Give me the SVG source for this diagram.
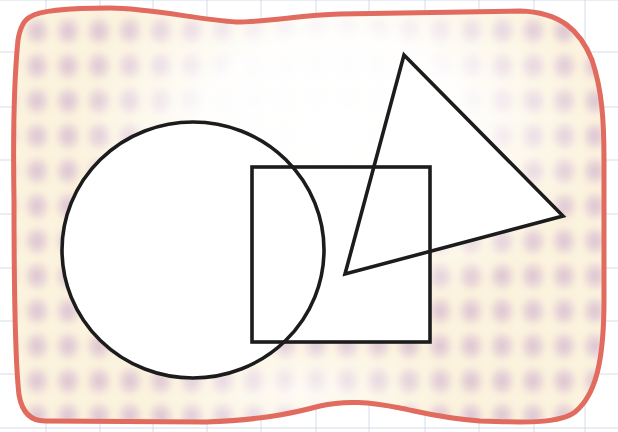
<svg xmlns="http://www.w3.org/2000/svg" width="618" height="432" viewBox="0 0 618 432">
<style>
.grid{stroke:#ccd3e2;stroke-width:0.8;fill:none}
.outline{fill:none;stroke:#1c1c1c;stroke-width:3.6;stroke-linejoin:miter}
.whitefill{fill:#ffffff;stroke:none}
.border{fill:none;stroke:#e06b5e;stroke-width:5;stroke-linejoin:round}
</style>
<defs>
<radialGradient id="spot">
<stop offset="0" stop-color="#c0a0cc" stop-opacity="0.6"/>
<stop offset="0.6" stop-color="#d4b0d0" stop-opacity="0.35"/>
<stop offset="1" stop-color="#f2d8e0" stop-opacity="0"/>
</radialGradient>
<pattern id="checks" x="22" y="14" width="31" height="35" patternUnits="userSpaceOnUse">
<rect width="31" height="35" fill="#fbf3dd"/>
<ellipse cx="15" cy="17" rx="15" ry="17" fill="url(#spot)"/>
</pattern>
<filter id="soft" x="-5%" y="-5%" width="110%" height="110%">
<feGaussianBlur stdDeviation="2.5"/>
</filter>
<radialGradient id="fade" cx="335" cy="130" r="260" gradientUnits="userSpaceOnUse" gradientTransform="translate(335 130) scale(1 0.72) translate(-335 -130)">
<stop offset="0" stop-color="#ffffff" stop-opacity="1"/>
<stop offset="0.5" stop-color="#ffffff" stop-opacity="0.95"/>
<stop offset="0.75" stop-color="#ffffff" stop-opacity="0.45"/>
<stop offset="1" stop-color="#ffffff" stop-opacity="0"/>
</radialGradient>
<radialGradient id="fade2" cx="300" cy="390" r="120" gradientUnits="userSpaceOnUse" gradientTransform="translate(300 390) scale(1.3 0.5) translate(-300 -390)">
<stop offset="0" stop-color="#ffffff" stop-opacity="0.7"/>
<stop offset="1" stop-color="#ffffff" stop-opacity="0"/>
</radialGradient>
<clipPath id="blobclip">
<path d="M 30,17 C 40,10 70,8 110,8 C 150,8 200,20 236,22 C 270,22 300,15 340,14 L 520,11 C 560,12 580,30 592,60 C 602,90 604,120 604,160 L 604,300 C 604,360 596,395 575,412 C 560,423 530,423 480,421 C 440,418 420,412 400,408 C 370,402 345,400 320,406 C 290,414 260,420 206,422 L 45,421 C 30,421 22,412 19,395 C 15,360 14,300 14,200 C 13,140 14,80 18,40 C 20,28 24,20 30,17 Z"/>
</clipPath>
</defs>
<rect width="618" height="432" fill="#ffffff"/>
<g id="grid" class="grid">
<path d="M46,0V432M100,0V432M153,0V432M207,0V432M261,0V432M316,0V432M369,0V432M425,0V432M479,0V432M534,0V432M585,0V432"/>
<path d="M0,0H618M0,52H618M0,107H618M0,160H618M0,214H618M0,268H618M0,321H618M0,374H618M0,428H618"/>
</g>
<g id="region">
<g clip-path="url(#blobclip)">
<rect width="618" height="432" fill="#fbf3dd"/>
<rect x="-10" y="-10" width="640" height="452" fill="url(#checks)" filter="url(#soft)"/>
<rect width="618" height="432" fill="url(#fade)"/>
<rect width="618" height="432" fill="url(#fade2)"/>
</g>
<path class="border" d="M 30,17 C 40,10 70,8 110,8 C 150,8 200,20 236,22 C 270,22 300,15 340,14 L 520,11 C 560,12 580,30 592,60 C 602,90 604,120 604,160 L 604,300 C 604,360 596,395 575,412 C 560,423 530,423 480,421 C 440,418 420,412 400,408 C 370,402 345,400 320,406 C 290,414 260,420 206,422 L 45,421 C 30,421 22,412 19,395 C 15,360 14,300 14,200 C 13,140 14,80 18,40 C 20,28 24,20 30,17 Z"/>
</g>
<g id="fills">
<ellipse class="whitefill" cx="193" cy="250" rx="131" ry="128"/>
<rect class="whitefill" x="252" y="167" width="178" height="175"/>
<polygon class="whitefill" points="404,55 563,216 345,274"/>
</g>
<g id="circle">
<ellipse class="outline" cx="193" cy="250" rx="131" ry="128"/>
</g>
<g id="rectangle">
<rect class="outline" x="252" y="167" width="178" height="175"/>
</g>
<g id="triangle">
<polygon class="outline" points="404,55 563,216 345,274"/>
</g>
</svg>
